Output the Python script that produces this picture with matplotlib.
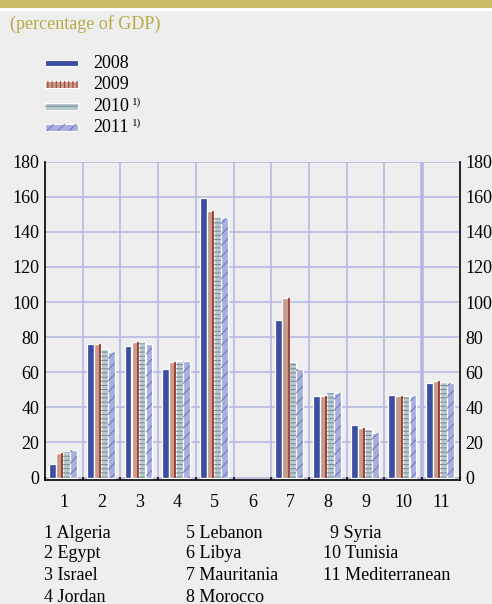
import matplotlib
matplotlib.use('Agg')
import matplotlib.pyplot as plt
from matplotlib.patches import Rectangle
import numpy as np

# ---------------- data ----------------
categories = ['1', '2', '3', '4', '5', '6', '7', '8', '9', '10', '11']
country_names = ['Algeria', 'Egypt', 'Israel', 'Jordan', 'Lebanon', 'Libya',
                 'Mauritania', 'Morocco', 'Syria', 'Tunisia', 'Mediterranean']
years = ['2008', '2009', '2010', '2011']
v2008 = [7.6, 76.1, 75.2, 61.7, 159.5, np.nan, 89.8, 46.5, 29.8, 46.9, 53.9]
v2009 = [14.2, 76.0, 77.3, 65.7, 151.9, np.nan, 102.5, 46.2, 28.5, 46.7, 55.2]
v2010 = [14.8, 73.3, 76.9, 66.6, 148.1, np.nan, 65.7, 48.2, 27.9, 46.5, 54.6]
v2011 = [15.7, 71.6, 76.3, 66.6, 148.0, np.nan, 62.1, 48.2, 25.6, 46.2, 54.0]
yticks = [0, 20, 40, 60, 80, 100, 120, 140, 160, 180]

series = [v2008, v2009, v2010, v2011]

# ---------------- style ----------------
W, H = 492, 604
BG = '#eeeeee'
GRID = '#b4b7e2'
OLIVE = '#c9bd66'
TITLE_C = '#b8aa48'
FONT = 'Liberation Serif'
FS = 13

faces = ['#3c4ea2', '#c99b8b', '#b8c7cc', '#a9afdd']
hatches = [None, None, '----', '///']
hatch_cols = [None, '#9b3a30', '#6d8c98', '#6a74c0']

plt.rcParams['font.family'] = [FONT, 'DejaVu Serif']
plt.rcParams['hatch.linewidth'] = 0.7

fig = plt.figure(figsize=(W / 100, H / 100), dpi=100, facecolor=BG)

def fx(px):
    return px / W

def fy(py):
    return 1 - py / H

# top band
fig.add_artist(Rectangle((0, fy(8.5)), 1, 8.5 / H, transform=fig.transFigure,
                         facecolor=OLIVE, edgecolor='none'))
fig.add_artist(Rectangle((0, fy(10.5)), 1, 2 / H, transform=fig.transFigure,
                         facecolor='white', edgecolor='none'))

fig.text(fx(10), fy(24), '(percentage of GDP)', color=TITLE_C, fontsize=FS,
         va='center', ha='left')

# axes
ax = fig.add_axes([fx(45), fy(480), fx(459.7) - fx(45), fy(161.7) - fy(480)])
ax.set_facecolor(BG)
ax.set_xlim(0.5, 11.5)
ax.set_ylim(-1.4, 180)

for yv in yticks:
    ax.axhline(yv, color=GRID, lw=1.1, zorder=0)
for b in np.arange(1.5, 11.0, 1.0):
    ax.axvline(b, color=GRID, lw=2.6 if abs(b - 10.5) < 1e-6 else 1.1, zorder=0)

x = np.arange(1, len(categories) + 1)
bw = 0.18
step = 0.186
for i, (vals, fc, hc, hcol) in enumerate(zip(series, faces, hatches, hatch_cols)):
    vals = np.array(vals, dtype=float)
    m = ~np.isnan(vals)
    xi = x[m] + (i - 1.5) * step - 0.02
    ax.bar(xi, vals[m], width=bw, color=fc, edgecolor='white', linewidth=0.9, zorder=2)
    if hc is not None:
        ax.bar(xi, vals[m], width=bw, facecolor='none', edgecolor=hcol,
               linewidth=0, hatch=hc, zorder=3)
    if i == 1:
        ax.vlines(xi + bw / 2 - 0.018, 0, vals[m], color=hcol, lw=1.3, zorder=3)

ax.spines['top'].set_visible(False)
for s in ['left', 'right', 'bottom']:
    ax.spines[s].set_color('black')
    ax.spines[s].set_linewidth(1.2)

ax.set_yticks(yticks)
ax.set_yticklabels([str(v) for v in yticks])
ax.tick_params(axis='y', length=0, labelleft=True, labelright=True,
               labelsize=FS, pad=4)
ax.set_xticks(x)
ax.set_xticklabels(categories)
ax.tick_params(axis='x', which='major', length=0, labelsize=FS, pad=10)
ax.set_xticks(np.arange(0.5, 11.6, 1.0), minor=True)
ax.tick_params(axis='x', which='minor', direction='in', length=2.5, width=1.1,
               color='black')

# legend (manual)
rows = [63, 84.5, 106.5, 127.5]
for i, (lab, fc, hc, hcol) in enumerate(zip(years, faces, hatches, hatch_cols)):
    yc = rows[i]
    rx, ry, rw, rh = fx(44.5), fy(yc + 3.3), fx(78) - fx(44.5), 6.6 / H
    fig.add_artist(Rectangle((rx, ry), rw, rh, transform=fig.transFigure,
                             facecolor=fc, edgecolor='white', lw=0.8))
    if i == 1:
        fig.add_artist(Rectangle((rx, ry), rw, rh, transform=fig.transFigure,
                                 facecolor='none', edgecolor=hcol, lw=0, hatch='||||'))
    elif hc is not None:
        fig.add_artist(Rectangle((rx, ry), rw, rh, transform=fig.transFigure,
                                 facecolor='none', edgecolor=hcol, lw=0, hatch=hc))
    fig.text(fx(93), fy(yc), lab, fontsize=FS, va='center', ha='left')
    if i >= 2:
        fig.text(fx(132), fy(yc - 4.5), '1)', fontsize=8, va='center', ha='left')

# country key
key = [
    (44, 533, '1 Algeria'), (44, 554, '2 Egypt'), (44, 575, '3 Israel'), (44, 597, '4 Jordan'),
    (186, 533, '5 Lebanon'), (186, 554, '6 Libya'), (186, 575, '7 Mauritania'), (186, 597, '8 Morocco'),
    (330, 533, '9 Syria'), (323, 554, '10 Tunisia'), (323, 575, '11 Mediterranean'),
]
for (px, py, t) in key:
    fig.text(fx(px), fy(py), t, fontsize=FS, va='center', ha='left')

fig.savefig('out.png', dpi=100, facecolor=BG)
